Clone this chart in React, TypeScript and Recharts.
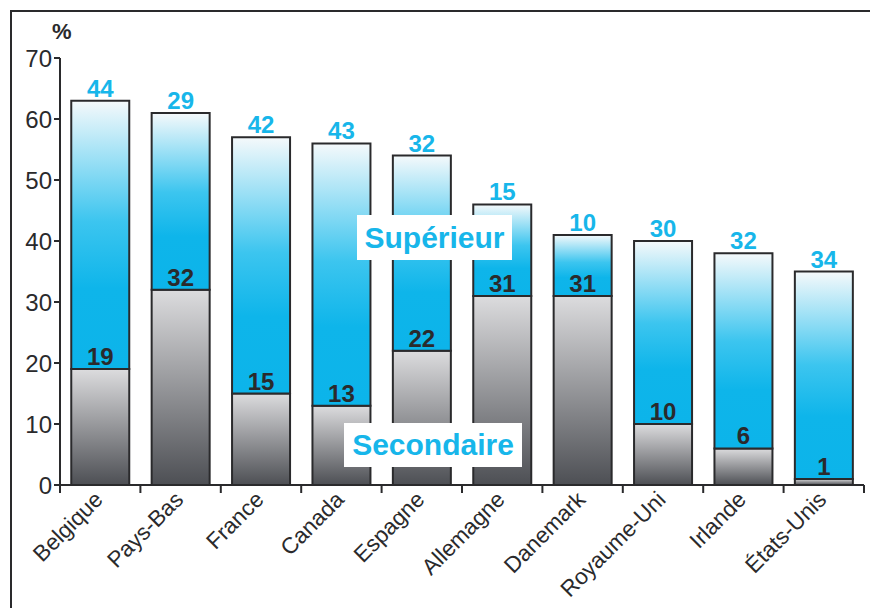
import React from "react";
import { Bar, BarChart, LabelList, XAxis, YAxis } from "recharts";

const pays = ["Belgique", "Pays-Bas", "France", "Canada", "Espagne", "Allemagne", "Danemark", "Royaume-Uni", "Irlande", "États-Unis"];
const secondaire = [19, 32, 15, 13, 22, 31, 31, 10, 6, 1];
const superieur = [44, 29, 42, 43, 32, 15, 10, 30, 32, 34];
const yTicks = [0, 10, 20, 30, 40, 50, 60, 70];

const rows = pays.map((p, i) => ({ pays: p, secondaire: secondaire[i], superieur: superieur[i] }));

const font = "'Liberation Sans', Arial, Helvetica, sans-serif";
const cyan = "#17b6ea";
const ink = "#2a2a2c";

function XTick(props: any) {
  const { x, y, payload, index } = props;
  const half = payload?.offset ?? 40.2;
  return (
    <g>
      <line x1={x - half} x2={x - half} y1={y} y2={y + 8} stroke={ink} strokeWidth={2} />
      {index === pays.length - 1 && <line x1={x + half} x2={x + half} y1={y} y2={y + 8} stroke={ink} strokeWidth={2} />}
      <text x={x + 4} y={y + 16} textAnchor="end" transform={`rotate(-45, ${x + 4}, ${y + 16})`} fontSize={22.5} fill={ink} fontFamily={font}>
        {payload.value}
      </text>
    </g>
  );
}

const tag: React.CSSProperties = {
  position: "absolute", background: "#fff", color: cyan, fontWeight: 700, fontSize: 30,
  fontFamily: font, display: "flex", alignItems: "center", justifyContent: "center",
};

export default function App() {
  return (
    <div style={{ position: "fixed", left: 0, top: 0, width: 870, height: 608, background: "#fff", overflow: "hidden" }}>
      <div style={{ position: "absolute", left: 10, top: 10, width: 870, height: 608, borderLeft: `2px solid ${ink}`, borderTop: `2px solid ${ink}` }} />
      <BarChart width={870} height={608} data={rows} margin={{ top: 58, right: 6, bottom: 20, left: 0 }} barCategoryGap="14%">
        <defs>
          <linearGradient id="gSup" x1="0" y1="0" x2="0" y2="1">
            <stop offset="0" stopColor="#f5f9fb" />
            <stop offset="0.45" stopColor="#3cc5ef" />
            <stop offset="0.7" stopColor="#0eb5ea" />
            <stop offset="1" stopColor="#0cb4ea" />
          </linearGradient>
          <linearGradient id="gSec" x1="0" y1="0" x2="0" y2="1">
            <stop offset="0" stopColor="#dcdcde" />
            <stop offset="1" stopColor="#4d4f54" />
          </linearGradient>
        </defs>
        <XAxis dataKey="pays" height={103} tickSize={0} tickMargin={0} tickLine={false} axisLine={{ stroke: ink, strokeWidth: 2 }} interval={0} tick={<XTick />} />
        <YAxis width={60} domain={[0, 70]} ticks={yTicks} tickSize={6} tickMargin={2} axisLine={{ stroke: ink, strokeWidth: 2 }} tickLine={{ stroke: ink, strokeWidth: 2 }} tick={{ fontSize: 24, fill: ink, fontFamily: font }} />
        <Bar dataKey="secondaire" stackId="a" fill="url(#gSec)" stroke={ink} strokeWidth={2} isAnimationActive={false}>
          <LabelList dataKey="secondaire" position="top" offset={4} fill={ink} fontSize={24} fontWeight={700} fontFamily={font} />
        </Bar>
        <Bar dataKey="superieur" stackId="a" fill="url(#gSup)" stroke={ink} strokeWidth={2} isAnimationActive={false}>
          <LabelList dataKey="superieur" position="top" offset={4} fill={cyan} fontSize={24} fontWeight={700} fontFamily={font} />
        </Bar>
      </BarChart>
      <div style={{ position: "absolute", left: 52, top: 19, fontSize: 22, fontWeight: 700, color: ink, fontFamily: font }}>%</div>
      <div style={{ ...tag, left: 357, top: 215, width: 155, height: 45 }}>Supérieur</div>
      <div style={{ ...tag, left: 344, top: 423, width: 178, height: 44 }}>Secondaire</div>
    </div>
  );
}
